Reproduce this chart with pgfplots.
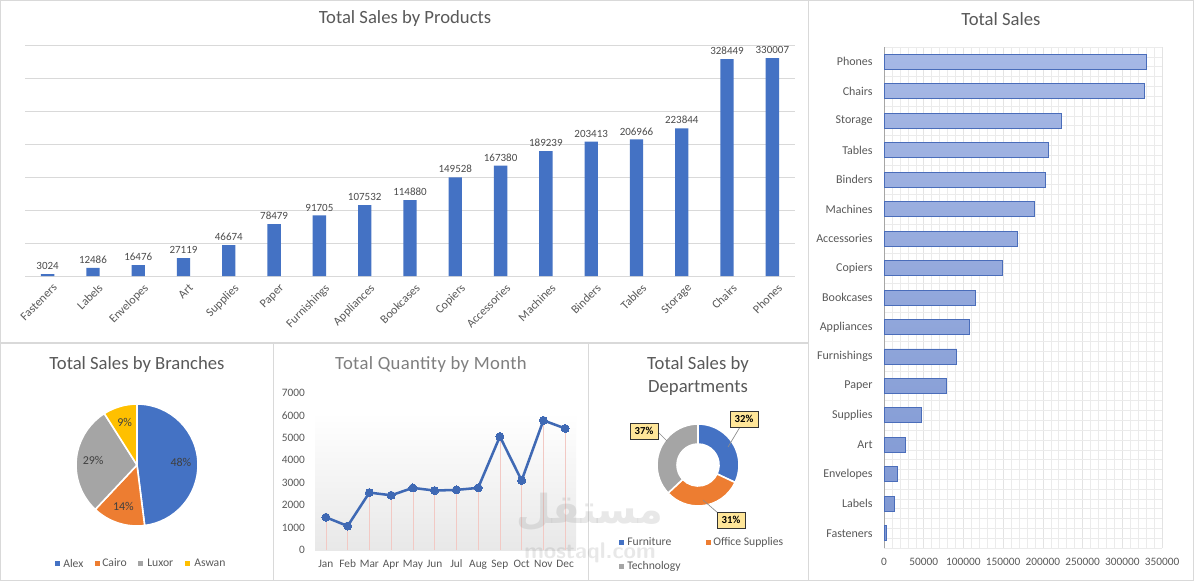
\documentclass[border=0pt]{standalone}
\usepackage{pgfplots}
\pgfplotsset{compat=1.18}
\usepackage{pgfplotstable}
\usepackage{fontspec}
\setmainfont{Carlito}
\newfontfamily\arabicfont[Script=Arabic]{DejaVu Sans}
\TeXXeTstate=1

\definecolor{cblue}{HTML}{4472C4}
\definecolor{corange}{HTML}{ED7D31}
\definecolor{cgray}{HTML}{A5A5A5}
\definecolor{cyellow}{HTML}{FFC000}
\definecolor{txt}{HTML}{595959}
\definecolor{lighttxt}{HTML}{7F7F7F}
\definecolor{frame}{HTML}{D9D9D9}
\definecolor{barTop}{HTML}{A6B8E5}
\definecolor{barBot}{HTML}{7E97D2}
\definecolor{barEdge}{HTML}{4A6DBA}
\definecolor{linecol}{HTML}{3F69B4}
\definecolor{dropcol}{HTML}{F2C9C4}
\definecolor{calloutfill}{HTML}{FFE699}

\pgfplotsset{/pgf/number format/assume math mode=true}

\tikzset{
  title/.style={font=\fontsize{14}{16}\selectfont, text=txt},
  pielabel/.style={font=\fontsize{9}{10}\selectfont, text=black!75},
  legtext/.style={font=\fontsize{8.75}{10}\selectfont, text=txt, anchor=west, inner sep=0pt},
  callout/.style={fill=calloutfill, draw=black!80, line width=0.5pt,
    font=\bfseries\fontsize{8}{9}\selectfont, inner sep=1pt,
    minimum width=21pt, minimum height=12pt},
}

\pgfplotstableread{
idx name value
0 Fasteners 3024
1 Labels 12486
2 Envelopes 16476
3 Art 27119
4 Supplies 46674
5 Paper 78479
6 Furnishings 91705
7 Appliances 107532
8 Bookcases 114880
9 Copiers 149528
10 Accessories 167380
11 Machines 189239
12 Binders 203413
13 Tables 206966
14 Storage 223844
15 Chairs 328449
16 Phones 330007
}\products

\pgfplotstableread{
idx month qty
0 Jan 1460
1 Feb 1070
2 Mar 2560
3 Apr 2440
4 May 2770
5 Jun 2650
6 Jul 2680
7 Aug 2770
8 Sep 5060
9 Oct 3100
10 Nov 5780
11 Dec 5420
}\months

\begin{document}
\begin{tikzpicture}
% layout grid: 1 unit = 0.75pt, origin at the top left corner
\begin{scope}[x=0.75pt,y=-0.75pt]
  \path[use as bounding box] (0,0) rectangle (1194,581);
  \fill[white] (0,0) rectangle (1194,581);
  % panel frames
  \draw[frame, line width=0.75pt] (0.5,0.5) rectangle (808,342);
  \draw[frame, line width=0.75pt] (808,0.5) rectangle (1193.5,580.5);
  \draw[frame, line width=0.75pt] (0.5,343) rectangle (273,580.5);
  \draw[frame, line width=0.75pt] (273,343) rectangle (588,580.5);
  \draw[frame, line width=0.75pt] (588,343) rectangle (808,580.5);
  % titles
  \node[title] at (405,19) {Total Sales by Products};
  \node[title] at (1001,19) {Total Sales};
  \node[title] at (137,365) {Total Sales by Branches};
  \node[title, text=lighttxt, font=\fontsize{14}{16}\selectfont\addfontfeature{LetterSpace=2}] at (431,365) {Total Quantity by Month};
  \node[title, align=center, font=\fontsize{14}{17.25}\selectfont] at (698,376) {Total Sales by\\Departments};
\end{scope}

% ---------- Total Sales by Products (columns) ----------
\begin{axis}[
  at={(18.75pt,-207pt)}, anchor=south west,
  scale only axis, width=577.5pt, height=173.25pt,
  ybar, bar width=10pt,
  xmin=-0.5, xmax=16.5, ymin=0, ymax=350000,
  axis line style={draw=none},
  major tick length=0pt,
  ytick={0,50000,...,350000}, yticklabels={}, scaled y ticks=false,
  ymajorgrids, grid style={draw=frame, line width=0.6pt},
  xtick=data, xticklabels from table={\products}{name},
  x tick label style={rotate=45, anchor=north east, font=\fontsize{9}{10}\selectfont,
    text=txt, inner sep=1pt, yshift=-5pt},
  nodes near coords={\pgfmathprintnumber[fixed,precision=0,1000 sep={}]{\pgfplotspointmeta}},
  nodes near coords style={font=\fontsize{8.25}{9}\selectfont, text=black!70, inner sep=3pt},
]
\addplot[fill=cblue, draw=none] table[x=idx, y=value]{\products};
\end{axis}

% ---------- Total Sales (horizontal bars) ----------
\begin{axis}[
  at={(663pt,-411pt)}, anchor=south west,
  scale only axis, width=208.5pt, height=375.75pt,
  xbar, bar width=11.25pt,
  xmin=0, xmax=350000, ymin=-0.5, ymax=16.5,
  axis line style={draw=none},
  major tick length=0pt, minor tick length=0pt,
  xtick={0,50000,...,350000}, scaled x ticks=false,
  minor x tick num=4,
  x tick label style={/pgf/number format/fixed, /pgf/number format/1000 sep={},
    font=\fontsize{8.5}{10}\selectfont, text=txt, yshift=-4pt},
  ytick=data, yticklabels from table={\products}{name},
  minor ytick={-0.5,-0.1667,...,16.6},
  y tick label style={font=\fontsize{9}{10}\selectfont, text=txt, xshift=-5pt},
  xmajorgrids, xminorgrids, yminorgrids,
  grid style={draw=black!8, line width=0.4pt},
  major grid style={draw=black!11},
]
\draw[black!35, line width=0.5pt] (axis cs:0,-0.5) -- (axis cs:0,16.5);
\addplot[draw=barEdge, line width=0.6pt, top color=barTop, bottom color=barBot]
  table[x=value, y=idx]{\products};
\end{axis}

% ---------- Total Sales by Branches (pie) ----------
\begin{axis}[
  at={(102.75pt,-348.75pt)}, anchor=center,
  scale only axis, width=10pt, height=10pt,
  xmin=-1, xmax=1, ymin=-1, ymax=1, hide axis, clip=false,
]
\pgfmathsetmacro\angA{90}
\foreach \v/\col in {48/cblue,14/corange,29/cgray,9/cyellow}{%
  \pgfmathsetmacro\angB{\angA-3.6*\v}%
  \pgfmathsetmacro\angM{(\angA+\angB)/2}%
  \edef\slice{\noexpand\filldraw[fill=\col, draw=white, line width=1.2pt]
    (axis cs:0,0) -- ++(\angA:45.75pt) arc[start angle=\angA, end angle=\angB, radius=45.75pt] -- cycle;
    \noexpand\path (axis cs:0,0) ++(\angM:33pt) node[pielabel] {\v\noexpand\%};}%
  \slice
  \global\let\angA\angB
}
\end{axis}

% ---------- Total Quantity by Month (line) ----------
\begin{axis}[
  at={(236.25pt,-412.5pt)}, anchor=south west,
  scale only axis, width=195.75pt, height=117.75pt,
  xmin=-0.5, xmax=11.5, ymin=0, ymax=7000,
  axis x line*=bottom, axis y line*=left,
  y axis line style={draw=none}, x axis line style={draw=frame, line width=0.8pt},
  major tick length=0pt,
  ytick={0,1000,...,7000},
  y tick label style={/pgf/number format/1000 sep={}, font=\fontsize{8.5}{10}\selectfont, text=txt, xshift=-4pt},
  xtick=data, xticklabels from table={\months}{month},
  x tick label style={font=\fontsize{8.5}{10}\selectfont, text=txt, yshift=-4pt},
  clip=false,
]
\fill[top color=white, bottom color=black!9] (axis cs:-0.5,0) rectangle (axis cs:11.5,6150);
\addplot[ycomb, draw=dropcol, line width=0.5pt, mark=none] table[x=idx, y=qty]{\months};
\addplot[draw=linecol, line width=1.9pt, mark=*, mark size=3pt,
  mark options={fill=linecol, draw=linecol, line width=0pt}] table[x=idx, y=qty]{\months};
\end{axis}

% ---------- Total Sales by Departments (doughnut) ----------
\begin{axis}[
  at={(523.5pt,-348.75pt)}, anchor=center,
  scale only axis, width=10pt, height=10pt,
  xmin=-1, xmax=1, ymin=-1, ymax=1, hide axis, clip=false,
]
\pgfmathsetmacro\angA{90}
\foreach \v/\col in {32/cblue,31/corange,37/cgray}{%
  \pgfmathsetmacro\angB{\angA-3.6*\v}%
  \edef\slice{\noexpand\filldraw[fill=\col, draw=white, line width=1.2pt]
    (axis cs:0,0) ++(\angA:30.75pt) arc[start angle=\angA, end angle=\angB, radius=30.75pt]
    -- ++(\angB:-15pt) arc[start angle=\angB, end angle=\angA, radius=15.75pt] -- cycle;}%
  \slice
  \global\let\angA\angB
}
\end{axis}

\begin{scope}[x=0.75pt,y=-0.75pt]
  % doughnut callouts
  \draw[black!45, line width=0.5pt] (740,427) -- (728,447);
  \node[callout] at (744,419) {32\%};
  \draw[black!45, line width=0.5pt] (718,513) -- (703,500);
  \node[callout] at (731,520) {31\%};
  \draw[black!45, line width=0.5pt] (659,433) -- (667,441);
  \node[callout] at (644,431) {37\%};
  % pie legend
  \fill[cblue] (54.5,560.5) rectangle +(5,5);   \node[legtext] at (63,563) {Alex};
  \fill[corange] (94.5,560.5) rectangle +(5,5); \node[legtext] at (102,563) {Cairo};
  \fill[cgray] (137.5,560.5) rectangle +(5,5);  \node[legtext] at (147,563) {Luxor};
  \fill[cyellow] (184.5,560.5) rectangle +(5,5);\node[legtext] at (194,563) {Aswan};
  % doughnut legend
  \fill[cblue] (618.5,539.5) rectangle +(5,5);   \node[legtext] at (627,542) {Furniture};
  \fill[corange] (705.5,539.5) rectangle +(5,5); \node[legtext] at (713,542) {Office Supplies};
  \fill[cgray] (618.5,563.5) rectangle +(5,5);   \node[legtext] at (627,566) {Technology};
  % watermark
  \node[text=gray, text opacity=0.18, font=\arabicfont\bfseries\fontsize{30}{32}\selectfont] at (590,512) {\beginR مستقل\endR};
  \node[text=gray, text opacity=0.18, font=\bfseries\sffamily\fontsize{17}{18}\selectfont] at (590,553) {mostaql.com};
\end{scope}
\end{tikzpicture}
\end{document}
